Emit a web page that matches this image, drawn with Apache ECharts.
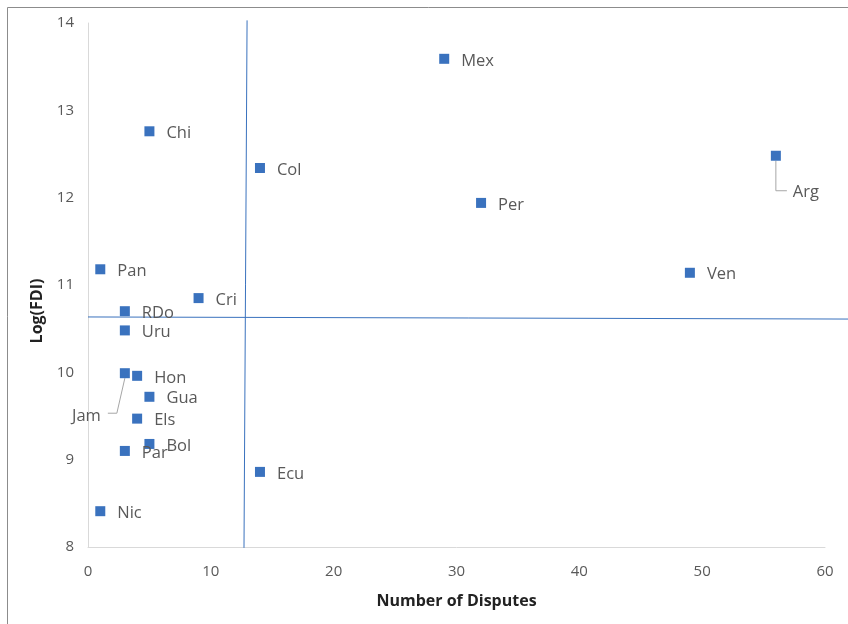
<!DOCTYPE html>
<html>
<head>
<meta charset="utf-8">
<script src="https://cdn.jsdelivr.net/npm/echarts@6/dist/echarts.min.js"></script>
<style>
  html, body { margin: 0; padding: 0; background: #fff; }
  #chart { width: 848px; height: 624px; }
</style>
</head>
<body>
<div id="chart"></div>
<script>
// Country codes, dispute counts and log FDI
const countries = ['Mex','Chi','Col','Arg','Per','Pan','Ven','Cri','RDo','Uru','Jam','Hon','Gua','Els','Bol','Par','Ecu','Nic'];
const disputes  = [29, 5, 14, 56, 32, 1, 49, 9, 3, 3, 3, 4, 5, 4, 5, 3, 14, 1];
const logFdi    = [13.59, 12.76, 12.34, 12.48, 11.94, 11.18, 11.14, 10.85, 10.70, 10.48, 9.99, 9.96, 9.72, 9.47, 9.18, 9.10, 8.86, 8.41];

// Quadrant divider lines: [x1, y1, x2, y2]
const dividerVertical   = [12.95, 14.03, 12.7, 7.99];
const dividerHorizontal = [0, 10.634, 61.9, 10.61];

const xTicks = { min: 0, max: 60, interval: 10 };
const yTicks = { min: 8, max: 14, interval: 1 };

const blue = '#3A72BE';
const textGray = '#595959';
const fontFam = '"Open Sans", "Noto Sans", sans-serif';

// Labels pulled away from their markers, with elbow leader lines (pixel offsets)
const moved = {
  Arg: { label: { position: 'right', dx: 0, dy: 37 }, path: [[0, 5], [0, 35], [11, 35]] },
  Jam: { label: { position: 'left', dx: -7, dy: 43 }, path: [[0, 5], [-8, 40], [-17, 40]] }
};

const points = countries.map((c, i) => {
  const item = { name: c, value: [disputes[i], logFdi[i]] };
  if (moved[c]) item.label = { position: moved[c].label.position };
  return item;
});

const leaderData = countries.map((c, i) => [disputes[i], logFdi[i], i]).filter(d => moved[countries[d[2]]]);

const chart = echarts.init(document.getElementById('chart'));
chart.setOption({
  animation: false,
  backgroundColor: '#fff',
  grid: { left: 88, right: 23, top: 23, bottom: 77 },
  graphic: [
    {
      type: 'rect', left: 5, top: 5, silent: true,
      shape: { x: 0, y: 0, width: 860, height: 640 },
      style: { fill: 'none', stroke: '#8c8c8c', lineWidth: 1 }
    },
    {
      type: 'text', silent: true, x: 37, y: 311, rotation: Math.PI / 2,
      style: {
        text: 'Log(FDI)', fill: '#222', font: 'bold 16px ' + fontFam,
        align: 'center', verticalAlign: 'middle'
      }
    }
  ],
  xAxis: {
    type: 'value', min: xTicks.min, max: xTicks.max, interval: xTicks.interval,
    name: 'Number of Disputes', nameLocation: 'middle', nameGap: 46,
    nameTextStyle: { fontFamily: fontFam, fontWeight: 'bold', fontSize: 16, color: '#222' },
    axisLine: { show: true, lineStyle: { color: '#d9d9d9', width: 1 } },
    axisTick: { show: false },
    axisLabel: { color: textGray, fontFamily: fontFam, fontSize: 15, margin: 17 },
    splitLine: { show: false }
  },
  yAxis: {
    type: 'value', min: yTicks.min, max: yTicks.max, interval: yTicks.interval,
    axisLine: { show: true, onZero: false, lineStyle: { color: '#d9d9d9', width: 1 } },
    axisTick: { show: false },
    axisLabel: { color: textGray, fontFamily: fontFam, fontSize: 15, margin: 14 },
    splitLine: { show: false }
  },
  series: [
    {
      // quadrant dividers
      type: 'custom', silent: true, clip: false, z: 1,
      data: [dividerVertical, dividerHorizontal],
      renderItem: (params, api) => {
        const a = api.coord([api.value(0), api.value(1)]);
        const b = api.coord([api.value(2), api.value(3)]);
        return {
          type: 'line',
          shape: { x1: a[0], y1: a[1], x2: b[0], y2: b[1] },
          style: { stroke: blue, lineWidth: 1 }
        };
      }
    },
    {
      // leader lines for displaced labels
      type: 'custom', silent: true, clip: false, z: 2,
      data: leaderData,
      renderItem: (params, api) => {
        const c = api.coord([api.value(0), api.value(1)]);
        const name = countries[api.value(2)];
        return {
          type: 'polyline',
          shape: { points: moved[name].path.map(p => [c[0] + p[0], c[1] + p[1]]) },
          style: { stroke: '#a6a6a6', lineWidth: 1, fill: null }
        };
      }
    },
    {
      type: 'scatter', symbol: 'rect', symbolSize: 10, z: 3,
      itemStyle: { color: blue, opacity: 1 },
      data: points,
      label: {
        show: true, position: 'right', distance: 12,
        formatter: p => p.name,
        color: textGray, fontFamily: fontFam, fontSize: 16.5
      },
      labelLayout: params => {
        const m = moved[countries[params.dataIndex]];
        return m ? { dx: m.label.dx, dy: m.label.dy } : { dy: 2 };
      }
    }
  ]
});
</script>
</body>
</html>
